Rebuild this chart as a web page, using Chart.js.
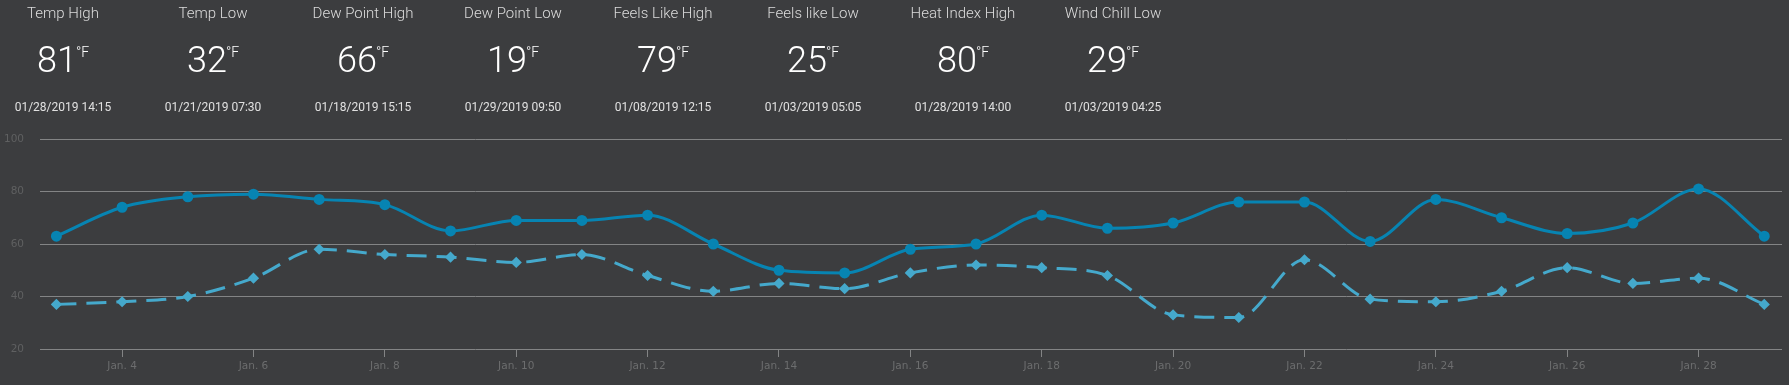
<!DOCTYPE html>
<html>
<head>
<meta charset="utf-8">
<script src="https://cdn.jsdelivr.net/npm/chart.js@4/dist/chart.umd.min.js"></script>
<style>
  html, body { margin:0; padding:0; background:#3c3d3f; width:1789px; height:385px; overflow:hidden; }
  #wrap { position:relative; width:1789px; height:385px; }
  canvas { position:absolute; left:0; top:0; }
  .stat { position:absolute; top:0; width:150px; text-align:center; font-family:Roboto, "Open Sans", sans-serif; color:#e8e8e8; }
  .stat .t { position:absolute; top:4px; left:0; width:150px; font-size:15px; font-weight:300; color:#dcdcdc; }
  .stat .v { position:absolute; top:39px; left:0; width:150px; font-size:36px; font-weight:300; color:#ffffff; }
  .stat .v sup { font-size:14px; vertical-align:top; position:relative; top:5px; margin-left:-1px; }
  .stat .d { position:absolute; top:100px; left:0; width:150px; font-size:12px; color:#e0e0e0; }
</style>
</head>
<body>
<div id="wrap">
  <canvas id="c" width="1789" height="385"></canvas>
  <div id="stats"></div>
</div>
<script>
// Summary stats
const statTitles = ["Temp High","Temp Low","Dew Point High","Dew Point Low","Feels Like High","Feels like Low","Heat Index High","Wind Chill Low"];
const statValues = [81, 32, 66, 19, 79, 25, 80, 29];
const statTimes = ["01/28/2019 14:15","01/21/2019 07:30","01/18/2019 15:15","01/29/2019 09:50","01/08/2019 12:15","01/03/2019 05:05","01/28/2019 14:00","01/03/2019 04:25"];

// Chart data
const days = [3,4,5,6,7,8,9,10,11,12,13,14,15,16,17,18,19,20,21,22,23,24,25,26,27,28,29];
const highs = [63,74,78,79,77,75,65,69,69,71,60,50,49,58,60,71,66,68,76,76,61,77,70,64,68,81,63];
const lows  = [37,38,40,47,58,56,55,53,56,48,42,45,43,49,52,51,48,33,32,54,39,38,42,51,45,47,37];
const xTickDays = [4,6,8,10,12,14,16,18,20,22,24,26,28];
const yTicks = [20,40,60,80,100];

const statsEl = document.getElementById('stats');
statTitles.forEach((t, i) => {
  const d = document.createElement('div');
  d.className = 'stat';
  d.style.left = (150 * i - 12) + 'px';
  d.innerHTML = '<div class="t">' + t + '</div><div class="v">' + statValues[i] + '<sup>°F</sup></div><div class="d">' + statTimes[i] + '</div>';
  statsEl.appendChild(d);
});

const gridColor = '#838485';
new Chart(document.getElementById('c'), {
  type: 'line',
  data: {
    datasets: [
      {
        label: 'High',
        data: days.map((d, i) => ({x: d, y: highs[i]})),
        borderColor: '#0784b2',
        backgroundColor: '#0784b2',
        borderWidth: 3,
        pointRadius: 4,
        pointStyle: 'circle',
        cubicInterpolationMode: 'monotone',
        fill: false
      },
      {
        label: 'Low',
        data: days.map((d, i) => ({x: d, y: lows[i]})),
        borderColor: '#45a9cc',
        backgroundColor: '#45a9cc',
        borderWidth: 3,
        borderDash: [20, 10],
        pointRadius: 3.5,
        pointStyle: 'rectRot',
        cubicInterpolationMode: 'monotone',
        fill: false
      }
    ]
  },
  options: {
    responsive: false,
    animation: false,
    layout: { padding: { top: 139, right: 2, left: 0, bottom: 0 } },
    plugins: { legend: { display: false }, tooltip: { enabled: false } },
    scales: {
      x: {
        type: 'linear',
        min: 2.75,
        max: 29.27,
        afterBuildTicks: (s) => { s.ticks = xTickDays.map(v => ({value: v})); },
        afterFit: (s) => { s.height = 36; },
        border: { display: false },
        grid: { drawOnChartArea: false, drawTicks: true, tickLength: 8, color: gridColor },
        ticks: {
          callback: (v) => 'Jan. ' + v,
          color: '#6c6d6e',
          padding: 3,
          maxRotation: 0,
          autoSkip: false,
          font: { family: 'DejaVu Sans', size: 10.5 }
        }
      },
      y: {
        min: 20,
        max: 100,
        afterBuildTicks: (s) => { s.ticks = yTicks.map(v => ({value: v})); },
        afterFit: (s) => { s.width = 40; },
        border: { display: false },
        grid: { color: gridColor, drawTicks: false, lineWidth: 1 },
        ticks: {
          color: '#5f6061',
          padding: 16,
          font: { family: 'DejaVu Sans', size: 10.5 }
        }
      }
    }
  }
});
</script>
</body>
</html>
